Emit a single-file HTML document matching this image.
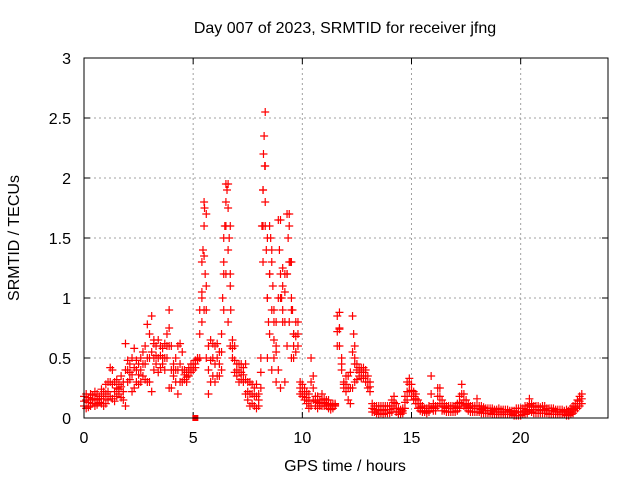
<!DOCTYPE html>
<html><head><meta charset="utf-8"><style>
body{margin:0;background:#fff;}
svg{display:block;font-family:"Liberation Sans",sans-serif;}
</style></head><body>
<svg id="c" width="640" height="480">
<rect x="0" y="0" width="640" height="480" fill="#fff"/>
<text x="345" y="33" font-size="16" text-anchor="middle" fill="#000">Day 007 of 2023, SRMTID for receiver jfng</text>
<text x="345" y="471" font-size="16" text-anchor="middle">GPS time / hours</text>
<text transform="translate(19,238) rotate(-90)" font-size="16" text-anchor="middle">SRMTID / TECUs</text>
<g id="grid"></g>
<g id="ticks"></g>
<g id="pts"></g>
<rect x="84" y="58" width="524" height="360" fill="none" stroke="#000" stroke-width="1"/>
</svg>
<script>
const xTicks=[0,5,10,15,20];
const yTicks=[0,0.5,1,1.5,2,2.5,3];
const yTickLabels=["0","0.5","1","1.5","2","2.5","3"];
const times=[0,0.1,0.2,0.3,0.4,0.5,0.6,0.7,0.8,0.9,1,1.1,1.2,1.3,1.4,1.5,1.6,1.7,1.8,1.9,2,2.1,2.2,2.3,2.4,2.5,2.6,2.7,2.8,2.9,3,3.1,3.2,3.3,3.4,3.5,3.6,3.7,3.8,3.9,4,4.1,4.2,4.3,4.4,4.5,4.6,4.7,4.8,4.9,5,5.1,5.2,5.3,5.4,5.5,5.6,5.7,5.8,5.9,6,6.1,6.2,6.3,6.4,6.5,6.6,6.7,6.8,6.9,7,7.1,7.2,7.3,7.4,7.5,7.6,7.7,7.8,7.9,8,8.1,8.2,8.3,8.4,8.5,8.6,8.7,8.8,8.9,9,9.1,9.2,9.3,9.4,9.5,9.6,9.7,9.8,9.9,10,10.1,10.2,10.3,10.4,10.5,10.6,10.7,10.8,10.9,11,11.1,11.2,11.3,11.4,11.5,11.6,11.7,11.8,11.9,12,12.1,12.2,12.3,12.4,12.5,12.6,12.7,12.8,12.9,13,13.1,13.2,13.3,13.4,13.5,13.6,13.7,13.8,13.9,14,14.1,14.2,14.3,14.4,14.5,14.6,14.7,14.8,14.9,15,15.1,15.2,15.3,15.4,15.5,15.6,15.7,15.8,15.9,16,16.1,16.2,16.3,16.4,16.5,16.6,16.7,16.8,16.9,17,17.1,17.2,17.3,17.4,17.5,17.6,17.7,17.8,17.9,18,18.1,18.2,18.3,18.4,18.5,18.6,18.7,18.8,18.9,19,19.1,19.2,19.3,19.4,19.5,19.6,19.7,19.8,19.9,20,20.1,20.2,20.3,20.4,20.5,20.6,20.7,20.8,20.9,21,21.1,21.2,21.3,21.4,21.5,21.6,21.7,21.8,21.9,22,22.1,22.2,22.3,22.4,22.5,22.6,22.7,22.8];
const hiVals=[.18,.2,.17,.2,.19,.22,.2,.18,.24,.22,
.28,.3,.42,.4,.3,.32,.28,.35,.3,.62,
.48,.45,.5,.58,.48,.45,.5,.55,.6,.78,
.7,.85,.62,.6,.65,.6,.58,.62,.7,.9,
.6,.45,.5,.6,.62,.55,.4,.38,.42,.45,
.45,.48,.5,.9,1.3,1.8,1.7,.6,.65,.62,
.6,.62,.55,.7,1.5,1.95,1.95,1.6,.65,.6,
.45,.45,.45,.42,.45,.3,.3,.28,.25,.28,
.2,.5,1.9,2.55,1.5,1.6,1.4,.8,.8,1.65,
1.65,1.25,1.2,1.7,1.7,1.3,.7,.8,.8,.3,
.28,.25,.22,.2,.5,.35,.18,.18,.15,.2,
.16,.15,.15,.12,.12,.12,.85,.88,.5,.3,
.35,.35,.38,.85,.6,.45,.42,.42,.42,.4,
.35,.3,.12,.1,.1,.1,.1,.1,.1,.1,
.1,.15,.18,.12,.08,.07,.08,.18,.3,.33,
.28,.22,.2,.15,.12,.1,.08,.08,.1,.35,
.12,.1,.25,.25,.15,.12,.1,.1,.1,.1,
.1,.12,.18,.28,.2,.15,.12,.1,.1,.1,
.16,.1,.1,.09,.08,.08,.08,.08,.07,.07,
.08,.07,.07,.07,.07,.06,.06,.06,.08,.08,
.08,.08,.1,.1,.16,.12,.1,.1,.1,.09,
.1,.1,.08,.08,.08,.08,.07,.07,.07,.07,
.06,.07,.06,.08,.1,.12,.15,.18,.2];
const midVals=[.14,.15,.13,.15,.16,.16,.15,.16,.18,.16,
.2,.22,.3,.28,.22,.25,.24,.26,.22,.4,
.4,.38,.36,.42,.4,.36,.4,.45,.45,.5,
.5,.55,.5,.52,.5,.52,.5,.5,.6,.6,
.4,.4,.4,.4,.45,.4,.36,.34,.38,.42,
.42,.45,.49,.7,1.05,1.35,1.1,.4,.48,.5,
.45,.5,.45,.55,1.2,1.6,1.4,1.1,.58,.48,
.4,.38,.38,.36,.32,.22,.2,.2,.18,.18,
.15,.38,1.6,2.1,1.0,1.2,.9,.65,.55,1.0,
1.0,1.1,.8,1.2,1.3,.9,.6,.68,.7,.25,
.22,.2,.17,.14,.3,.25,.14,.13,.12,.15,
.13,.12,.11,.1,.1,.11,.72,.74,.45,.28,
.28,.25,.25,.55,.45,.4,.38,.38,.38,.35,
.3,.26,.08,.07,.07,.06,.07,.06,.07,.07,
.07,.1,.13,.08,.05,.05,.06,.13,.22,.28,
.23,.18,.16,.12,.09,.08,.06,.06,.08,.2,
.09,.08,.18,.18,.1,.09,.08,.08,.08,.08,
.08,.09,.13,.2,.15,.11,.09,.08,.08,.08,
.1,.08,.07,.06,.06,.06,.06,.06,.05,.05,
.05,.05,.05,.05,.05,.05,.05,.04,.05,.05,
.05,.05,.06,.07,.11,.09,.07,.07,.07,.06,
.07,.07,.06,.06,.06,.06,.05,.05,.05,.05,
.05,.05,.04,.05,.07,.09,.12,.14,.16];
const loVals=[.1,.08,.09,.1,.12,.1,.11,.13,.12,.1,
.12,.15,.18,.16,.14,.18,.2,.17,.15,.1,
.3,.32,.22,.25,.3,.28,.3,.35,.32,.3,
.3,.22,.4,.45,.38,.42,.45,.4,.5,.25,
.25,.35,.3,.2,.3,.3,.32,.3,.35,.38,
.4,.42,.48,.5,.8,.9,.5,.2,.3,.35,
.3,.35,.35,.4,.9,1.2,.8,.6,.5,.38,
.35,.3,.32,.3,.2,.15,.1,.12,.1,.08,
.1,.25,1.3,1.6,.5,.7,.4,.5,.3,.4,
.25,.9,.3,.6,.8,.5,.5,.55,.6,.2,
.18,.15,.12,.08,.1,.15,.1,.08,.1,.1,
.1,.1,.08,.07,.08,.1,.6,.6,.4,.25,
.22,.15,.12,.25,.3,.32,.35,.33,.33,.3,
.25,.22,.05,.05,.04,.03,.04,.03,.04,.04,
.04,.05,.08,.05,.03,.03,.04,.08,.15,.22,
.18,.15,.12,.08,.06,.05,.05,.04,.05,.08,
.06,.06,.1,.12,.06,.06,.05,.05,.05,.05,
.05,.06,.08,.12,.1,.08,.06,.05,.05,.05,
.05,.05,.04,.04,.04,.04,.04,.03,.03,.03,
.03,.03,.03,.03,.03,.03,.03,.02,.02,.02,
.02,.03,.03,.04,.06,.05,.04,.04,.04,.04,
.04,.04,.04,.03,.03,.03,.03,.03,.03,.03,
.03,.02,.02,.03,.04,.06,.08,.1,.12];
const peakT=[5.4,5.45,5.5,5.52,5.55,5.6,6.35,6.4,6.45,6.5,6.55,6.6,6.65,6.7,6.72,8.15,8.2,8.22,8.25,8.28,8.3,8.35,8.4,8.45,8.5,8.55,8.6,8.65,8.7,8.8,8.95,9.0,9.05,9.1,9.2,9.3,9.35,9.4,9.45,9.5,9.55,9.6,3.2,3.9,11.7,12.35,12.4];
const peakV=[1.0,1.4,1.6,1.75,1.2,0.9,1.0,1.3,1.6,1.8,1.9,1.75,1.5,1.2,0.9,1.6,1.9,2.2,2.35,2.1,1.8,1.4,1.0,0.8,1.2,1.5,1.3,1.1,0.9,0.6,1.4,1.2,1.0,0.8,1.05,1.2,1.5,1.6,1.3,1.0,0.9,0.7,0.65,0.75,0.75,0.7,0.5];
const squareT=[5.1];
const squareV=[0];

const X0=84,X1=608,Y0=418,Y1=58,XMAX=24,YMAX=3;
const sx=v=>X0+(X1-X0)*v/XMAX;
const sy=v=>Y0-(Y0-Y1)*v/YMAX;
const NS="http://www.w3.org/2000/svg";
const grid=document.getElementById('grid'),ticks=document.getElementById('ticks'),pts=document.getElementById('pts');
function mk(tag,attrs,parent){const e=document.createElementNS(NS,tag);for(const k in attrs)e.setAttribute(k,attrs[k]);parent.appendChild(e);return e;}
xTicks.forEach(t=>{
  const x=sx(t);
  if(t>0){const g=mk('line',{x1:x,x2:x,y1:Y1,y2:Y0,stroke:'#a0a0a0','stroke-dasharray':'2,3'},grid);
  
  }
  mk('line',{x1:x,x2:x,y1:Y0,y2:Y0-6,stroke:'#000'},ticks);
  mk('line',{x1:x,x2:x,y1:Y1,y2:Y1+6,stroke:'#000'},ticks);
  const l=mk('text',{x:x,y:Y0+25,'font-size':16,'text-anchor':'middle'},ticks);
  l.textContent=String(t);
  
  
});
yTicks.forEach((t,i)=>{
  const y=sy(t);
  if(t>0&&t<YMAX){const g=mk('line',{x1:X0,x2:X1,y1:y,y2:y,stroke:'#a0a0a0','stroke-dasharray':'2,3'},grid);
  
  }
  mk('line',{x1:X0,x2:X0+6,y1:y,y2:y,stroke:'#000'},ticks);
  mk('line',{x1:X1,x2:X1-6,y1:y,y2:y,stroke:'#000'},ticks);
  const l=mk('text',{x:X0-13,y:y+6,'font-size':16,'text-anchor':'end'},ticks);
  l.textContent=yTickLabels[i];
  
  
});
function cross(t,v){
  const x=sx(t),y=sy(v);
  const p=mk('path',{d:`M${x-4},${y}h8M${x},${y-4}v8`,stroke:'#ff0000','stroke-width':1.2,fill:'none'},pts);
  
  
}
times.forEach((t,i)=>{cross(t,loVals[i]);cross(t,midVals[i]);cross(t,hiVals[i]);});
peakT.forEach((t,i)=>cross(t,peakV[i]));
squareT.forEach((t,i)=>{
  const r=mk('rect',{x:sx(t)-3,y:sy(squareV[i])-3,width:6,height:6,fill:'#ff0000'},pts);
  
  
});
</script>
</body></html>
